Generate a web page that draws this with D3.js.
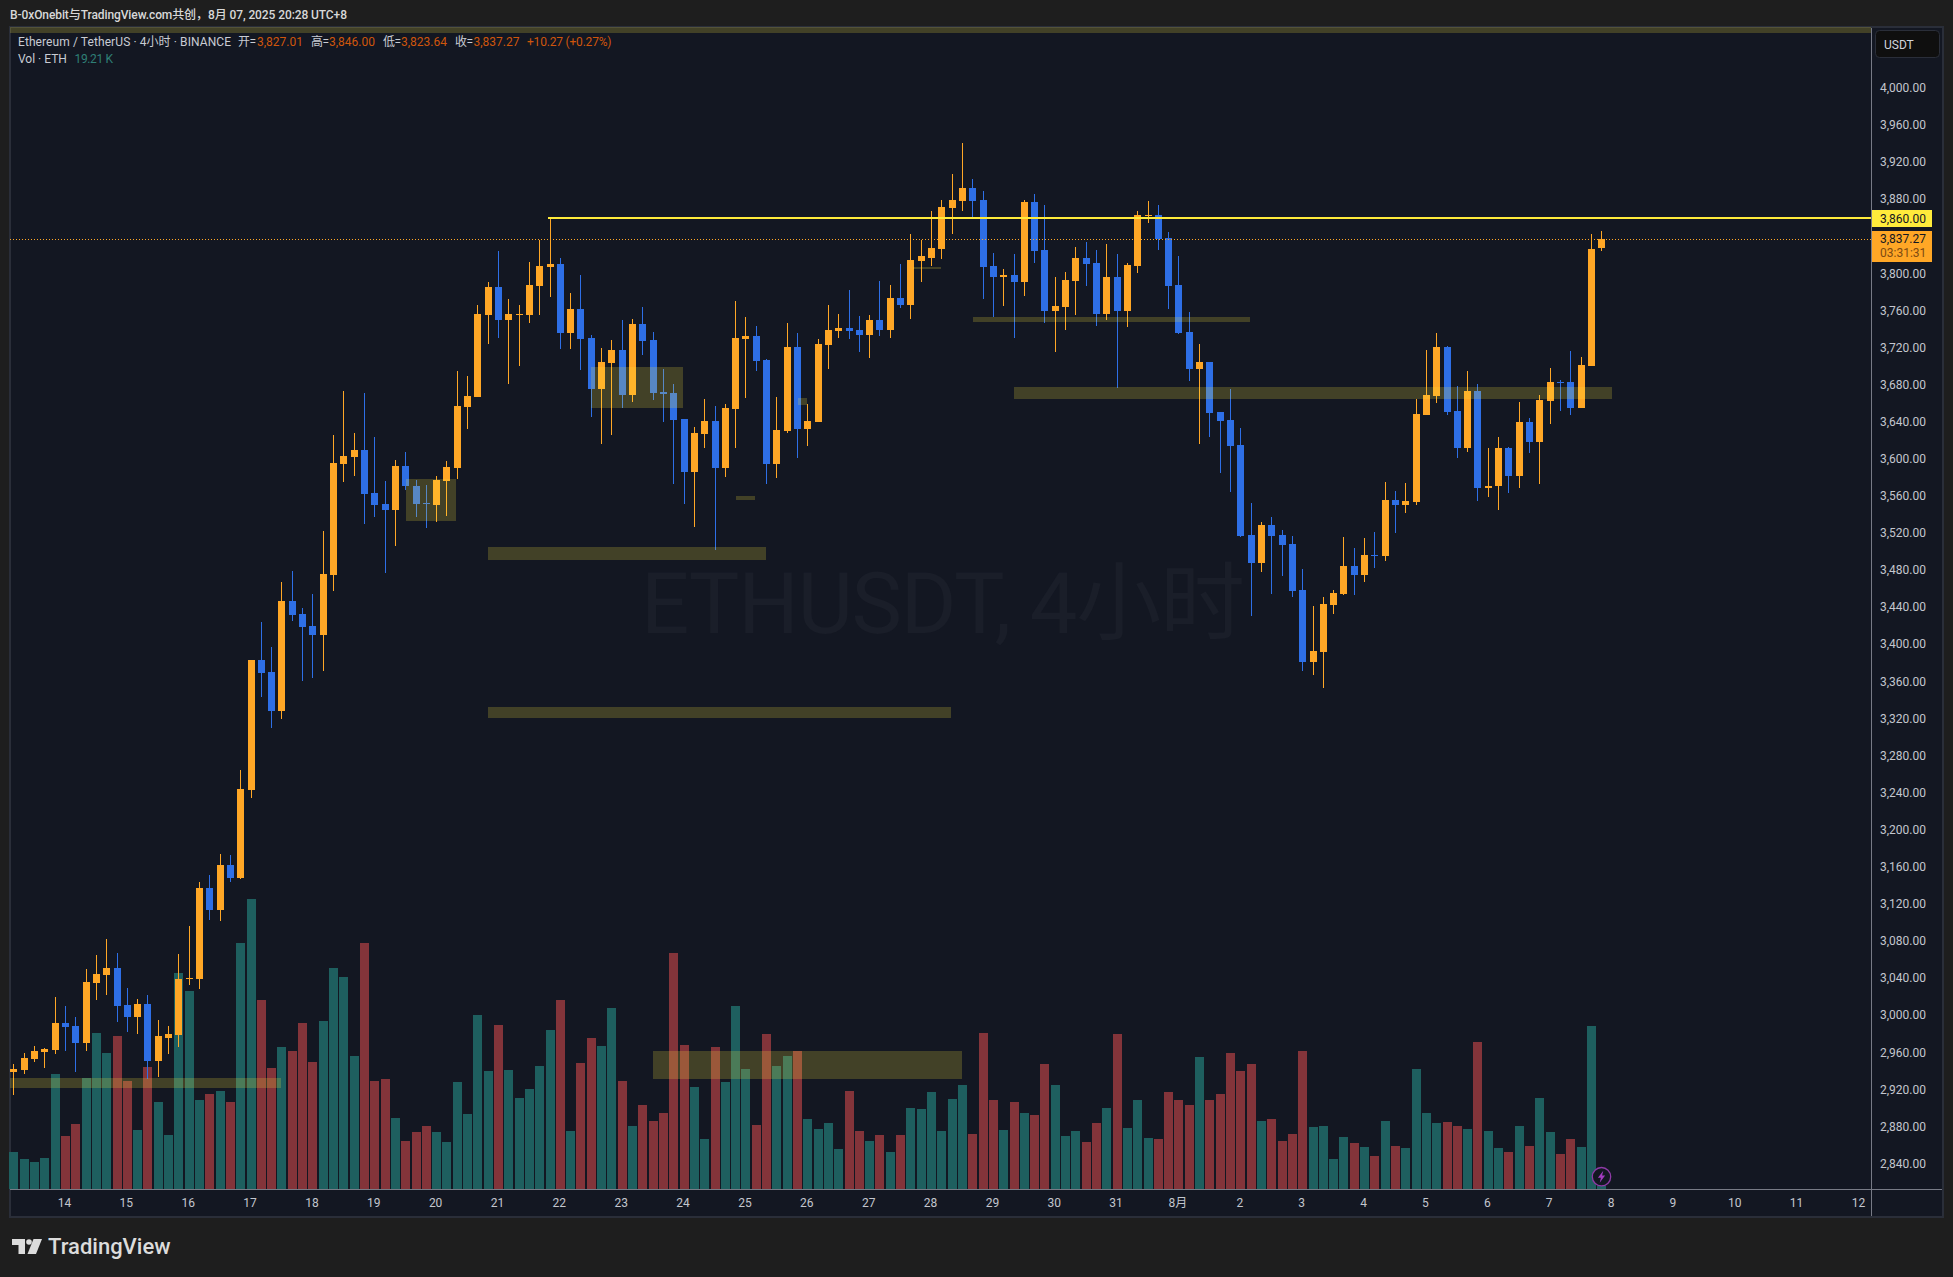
<!DOCTYPE html>
<html><head><meta charset="utf-8">
<script src="https://cdn.jsdelivr.net/npm/d3@7"></script>
<style>html,body{margin:0;padding:0;background:#1e1e1e;overflow:hidden}svg{display:block}
text{font-family:Roboto,"Noto Sans CJK SC",sans-serif}</style></head><body>
<svg id="c" width="1953" height="1277"></svg>
<script>
const opens=[2939,2941,2953,2960,2962,2992,2988,2970,3035,3043,3051,3011,2998,3012,2950,2975,2979,3039,3039,3137,3113,3162,3148,3243,3383,3370,3328,3447,3433,3420,3410,3475,3594,3602,3609,3563,3551,3545,3592,3571,3552,3550,3576,3590,3656,3667,3755,3785,3749,3755,3755,3786,3807,3810,3735,3761,3730,3675,3703,3717,3669,3745,3728,3672,3671,3643,3586,3627,3641,3590,3654,3729,3732,3706,3594,3630,3720,3632,3640,3723,3738,3741,3739,3733,3750,3739,3773,3766,3813,3816,3826,3870,3878,3892,3879,3808,3796,3798,3790,3877,3825,3759,3764,3792,3816,3811,3756,3796,3759,3808,3862,3863,3838,3787,3737,3697,3704,3650,3642,3615,3518,3487,3528,3518,3508,3458,3381,3392,3442,3454,3484,3475,3496,3495,3555,3550,3553,3647,3668,3720,3651,3612,3673,3568,3570,3612,3581,3639,3618,3662,3683,3683,3655,3700,3827.01];
const highs=[2947,2959,2967,2965,3020,3010,2998,3050,3065,3082,3067,3029,3017,3022,2995,2988,3066,3096,3144,3151,3174,3173,3264,3383,3424,3397,3467,3479,3439,3454,3522,3626,3673,3628,3671,3623,3576,3599,3607,3577,3572,3581,3598,3695,3689,3766,3790,3824,3772,3766,3812,3836,3860,3816,3779,3798,3733,3719,3728,3749,3751,3764,3737,3697,3680,3643,3634,3664,3657,3659,3770,3753,3743,3708,3667,3746,3735,3659,3729,3766,3756,3782,3754,3755,3792,3787,3810,3842,3836,3867,3879,3907,3940,3902,3889,3822,3804,3821,3879,3885,3874,3796,3801,3828,3834,3825,3832,3821,3811,3867,3878,3873,3844,3819,3758,3724,3704,3650,3675,3633,3552,3532,3537,3523,3517,3481,3441,3451,3458,3516,3504,3514,3521,3575,3565,3574,3664,3717,3736,3722,3678,3694,3680,3612,3623,3613,3661,3644,3669,3698,3685,3716,3710,3842,3846];
const lows=[2914,2936,2949,2943,2958,2961,2939,2961,3016,3022,2993,2982,2980,2931,2933,2958,2966,3032,3028,3103,3101,3143,3147,3234,3343,3310,3319,3425,3360,3364,3371,3457,3575,3581,3530,3537,3477,3506,3566,3537,3525,3532,3538,3578,3632,3667,3724,3730,3681,3700,3746,3755,3774,3718,3718,3696,3645,3616,3625,3655,3661,3712,3663,3640,3573,3551,3526,3612,3502,3580,3612,3665,3695,3573,3579,3628,3601,3614,3639,3697,3730,3729,3715,3709,3732,3730,3762,3751,3791,3808,3815,3842,3867,3860,3772,3753,3765,3730,3775,3811,3746,3715,3739,3755,3786,3743,3749,3676,3742,3800,3854,3825,3761,3734,3684,3616,3623,3585,3564,3515,3430,3478,3454,3474,3451,3371,3367,3353,3433,3453,3453,3467,3482,3490,3520,3541,3550,3647,3660,3647,3601,3607,3554,3559,3545,3563,3568,3606,3573,3637,3651,3647,3655,3700,3823.64];
const closes=[2942,2954,2961,2964,2992,2987,2970,3036,3044,3051,3010,2998,3012,2950,2977,2980,3039,3040,3137,3113,3162,3148,3244,3383,3369,3328,3447,3431,3419,3410,3476,3595,3603,3609,3562,3550,3545,3592,3570,3551,3551,3577,3591,3657,3668,3756,3785,3749,3756,3756,3787,3808,3810,3735,3761,3729,3675,3704,3717,3669,3745,3727,3671,3670,3642,3586,3628,3641,3590,3655,3730,3732,3705,3594,3631,3720,3632,3641,3724,3739,3741,3738,3733,3750,3739,3773,3766,3814,3818,3827,3871,3879,3892,3878,3807,3796,3798,3790,3877,3824,3759,3765,3793,3816,3810,3756,3796,3759,3809,3863,3863,3837,3786,3736,3697,3704,3649,3641,3614,3517,3487,3528,3517,3507,3457,3381,3393,3443,3455,3484,3475,3496,3495,3555,3550,3554,3648,3669,3720,3650,3612,3673,3568,3571,3612,3581,3639,3618,3663,3683,3682,3655,3701,3826,3837.27];
const volumes=[222,180,162,186,690,318,390,666,936,816,918,648,354,732,522,324,1296,1188,534,570,588,522,1476,1740,1134,726,852,828,996,762,1008,1326,1272,798,1476,648,660,426,288,342,378,342,282,642,450,1044,708,984,714,546,600,738,954,1134,348,756,906,858,1086,648,378,504,408,456,1416,864,612,300,852,642,1098,720,384,930,738,798,828,420,360,396,240,588,348,288,324,222,324,486,480,582,348,540,624,330,936,534,354,522,456,444,750,624,318,348,282,396,486,930,366,534,306,300,582,534,504,792,534,570,816,708,750,408,420,288,330,828,372,378,180,312,276,252,198,408,258,246,720,456,396,402,378,360,882,348,246,222,378,258,546,342,210,300,252,978,19.21];
const priceTicks=[4000,3960,3920,3880,3800,3760,3720,3680,3640,3600,3560,3520,3480,3440,3400,3360,3320,3280,3240,3200,3160,3120,3080,3040,3000,2960,2920,2880,2840];
const dayLabels=["14","15","16","17","18","19","20","21","22","23","24","25","26","27","28","29","30","31","8月","2","3","4","5","6","7","8","9","10","11","12"];
// bands: first bar, last bar, upper price, lower price
const bandFrom=[-0.33,56,38.1,46,46,70.1,76.1,87.3,93.1,97,-0.33,62];
const bandTo=[180.2,64.95,42.9,73,90.9,71.9,77,90,119.9,155,25.96,92];
const bandTop=[4065.5,3699,3578,3505,3332,3560,3665.5,3806.7,3752.8,3677.3,2932.3,2961.4];
const bandBottom=[4059,3655,3533,3491,3320.4,3555.5,3658,3804.5,3747.4,3664.4,2921.5,2931.2];
const levelPrice=3860, lastPrice=3837.27, levelFromBar=51.85;

const ORANGE="#ffa726",BLUE="#2e6fe6",VOLUP="#1e5f5f",VOLDN="#83343a",BG="#131722",EDGE="#2a2e39",AXIS="#787b86",TXT="#c3c6ce";
const svg=d3.select("#c");
const L=10,R=1942,T=28,B=1216,AX=1871,BASE=1189;
const x=d3.scaleLinear().domain([0,154]).range([13.4,1601.2]);
const y=d3.scaleLinear().domain([4000,2840]).range([87.7,1163.5]);
const vy=d3.scaleLinear().domain([0,1800]).range([BASE,BASE-300]);
const px=v=>Math.round(x(v));
const py=v=>Math.round(y(v));
const idx=d3.range(opens.length);
const up=i=>closes[i]>=opens[i];

svg.append("rect").attr("x",0).attr("y",0).attr("width",1953).attr("height",1277).attr("fill","#1e1e1e");
svg.append("rect").attr("x",L).attr("y",T-1).attr("width",R-L+1).attr("height",B-T+2).attr("fill",BG).attr("stroke",EDGE).attr("stroke-width",2).attr("shape-rendering","crispEdges");

// watermark
svg.append("text").attr("x",641).attr("y",633).attr("font-size",85).attr("fill","#1a1e29").attr("textLength",604).attr("lengthAdjust","spacing").text("ETHUSDT, 4小时");

// volume
svg.append("g").attr("shape-rendering","crispEdges").selectAll("rect").data(idx).join("rect")
 .attr("x",i=>px(i)-4).attr("width",9).attr("y",i=>Math.round(vy(volumes[i]))).attr("height",i=>BASE-Math.round(vy(volumes[i])))
 .attr("fill",i=>up(i)?VOLUP:VOLDN);

// wicks & bodies
svg.append("g").attr("shape-rendering","crispEdges").selectAll("rect").data(idx).join("rect")
 .attr("x",i=>px(i)).attr("width",1).attr("y",i=>py(highs[i])).attr("height",i=>Math.max(1,py(lows[i])-py(highs[i])))
 .attr("fill",i=>up(i)?ORANGE:BLUE);
svg.append("g").attr("shape-rendering","crispEdges").selectAll("rect").data(idx).join("rect")
 .attr("x",i=>px(i)-3).attr("width",7).attr("y",i=>py(Math.max(opens[i],closes[i])))
 .attr("height",i=>Math.max(1,py(Math.min(opens[i],closes[i]))-py(Math.max(opens[i],closes[i]))))
 .attr("fill",i=>up(i)?ORANGE:BLUE);

// bands
svg.append("g").attr("shape-rendering","crispEdges").selectAll("rect").data(d3.range(bandFrom.length)).join("rect")
 .attr("x",i=>Math.round(x(bandFrom[i]))).attr("width",i=>Math.round(x(bandTo[i]))-Math.round(x(bandFrom[i])))
 .attr("y",i=>py(bandTop[i])).attr("height",i=>py(bandBottom[i])-py(bandTop[i]))
 .attr("fill","#ffeb3b").attr("fill-opacity",0.2);

// last price dotted line and level line
svg.append("line").attr("x1",L).attr("x2",AX).attr("y1",py(lastPrice)+.5).attr("y2",py(lastPrice)+.5).attr("stroke",ORANGE).attr("stroke-width",1).attr("stroke-dasharray","1 2");
svg.append("rect").attr("x",Math.round(x(levelFromBar))).attr("y",py(levelPrice)-1).attr("width",AX-Math.round(x(levelFromBar))).attr("height",2).attr("fill","#ffeb3b").attr("shape-rendering","crispEdges");

// lightning marker
const mk=svg.append("g").attr("transform",`translate(${x(154)+.3},1176.7)`);
mk.append("circle").attr("r",9.2).attr("fill",BG).attr("stroke","#8e3aa6").attr("stroke-width",1.3);
mk.append("path").attr("d","M1.8,-6 L-3.6,1 L-0.6,1 L-1.8,6 L3.6,-1.2 L0.6,-1.2 Z").attr("fill","#a23bc0");

// axis frame lines
svg.append("rect").attr("x",L).attr("y",BASE).attr("width",R-L).attr("height",1).attr("fill",AXIS).attr("shape-rendering","crispEdges");
svg.append("rect").attr("x",AX).attr("y",T).attr("width",1).attr("height",B-T).attr("fill",AXIS).attr("shape-rendering","crispEdges");

// price axis
const ga=svg.append("g").attr("transform",`translate(${AX},0)`).call(d3.axisRight(y).tickValues(priceTicks).tickSize(0).tickPadding(9).tickFormat(d3.format(",.2f")));
ga.select(".domain").remove();
ga.selectAll("text").attr("fill",TXT).attr("font-size",12).style("font-family",'Roboto,"Noto Sans CJK SC",sans-serif');

// time axis
const gx=svg.append("g").attr("transform",`translate(-1,${BASE})`).call(d3.axisBottom(x).tickValues(dayLabels.map((d,i)=>5+6*i)).tickSize(0).tickPadding(9.5).tickFormat((d,i)=>dayLabels[i]));
gx.select(".domain").remove();
gx.selectAll("text").attr("fill",TXT).attr("font-size",12).style("font-family",'Roboto,"Noto Sans CJK SC",sans-serif');

// price tags
const tf=d3.format(",.2f");
svg.append("rect").attr("x",1872).attr("y",210).attr("width",60).attr("height",17).attr("fill","#ffeb3b");
svg.append("text").attr("x",1880).attr("y",222.5).attr("font-size",12).attr("fill","#131722").text(tf(levelPrice));
svg.append("rect").attr("x",1872).attr("y",231).attr("width",60).attr("height",31).attr("fill",ORANGE);
svg.append("text").attr("x",1880).attr("y",242.7).attr("font-size",12).attr("fill","#131722").text(tf(lastPrice));
svg.append("text").attr("x",1880).attr("y",257).attr("font-size",12).attr("fill","#7d4a12").text("03:31:31");

// currency button
svg.append("rect").attr("x",1875.5).attr("y",30.5).attr("width",64).attr("height",27).attr("rx",4).attr("fill","#0f0f0f").attr("stroke",EDGE);
svg.append("text").attr("x",1884).attr("y",49).attr("font-size",12).attr("fill","#d1d4dc").text("USDT");

// header, legend
svg.append("text").attr("x",10).attr("y",19).attr("font-size",12).attr("font-weight",500).attr("fill","#d8d8d8").attr("textLength",337).attr("lengthAdjust","spacing").text("B-0xOnebit与TradingView.com共创，8月 07, 2025 20:28 UTC+8");
const LEG="#c9ccd3",VAL="#cf560c";
const legendParts=[[18,"Ethereum / TetherUS · 4小时 · BINANCE",LEG,213],[238,"开=",LEG,18],[257,"3,827.01",VAL,46],[311,"高=",LEG,18],[329,"3,846.00",VAL,46],[383,"低=",LEG,18],[401,"3,823.64",VAL,46],[455,"收=",LEG,18],[473.5,"3,837.27",VAL,46],[527,"+10.27 (+0.27%)",VAL,84.5]];
svg.append("g").selectAll("text").data(legendParts).join("text").attr("x",d=>d[0]).attr("y",46).attr("font-size",12).attr("fill",d=>d[2]).attr("textLength",d=>d[3]).attr("lengthAdjust","spacing").text(d=>d[1]);
svg.append("text").attr("x",18).attr("y",63).attr("font-size",12).attr("fill",LEG).text("Vol · ETH");
svg.append("text").attr("x",74.5).attr("y",63).attr("font-size",12).attr("fill","#2f7f76").attr("textLength",38.5).attr("lengthAdjust","spacing").text("19.21 K");

// logo
const lg=svg.append("g").attr("fill","#dcdcdc");
lg.append("path").attr("d","M12,1239 H25 V1254 H18.5 V1245 H12 Z");
lg.append("circle").attr("cx",29).attr("cy",1242).attr("r",2.8);
lg.append("path").attr("d","M33.5,1239 H42 L36,1254 H27.5 Z");
svg.append("text").attr("x",48).attr("y",1254).attr("font-size",22).attr("font-weight",500).attr("fill","#dcdcdc").text("TradingView");
</script></body></html>
